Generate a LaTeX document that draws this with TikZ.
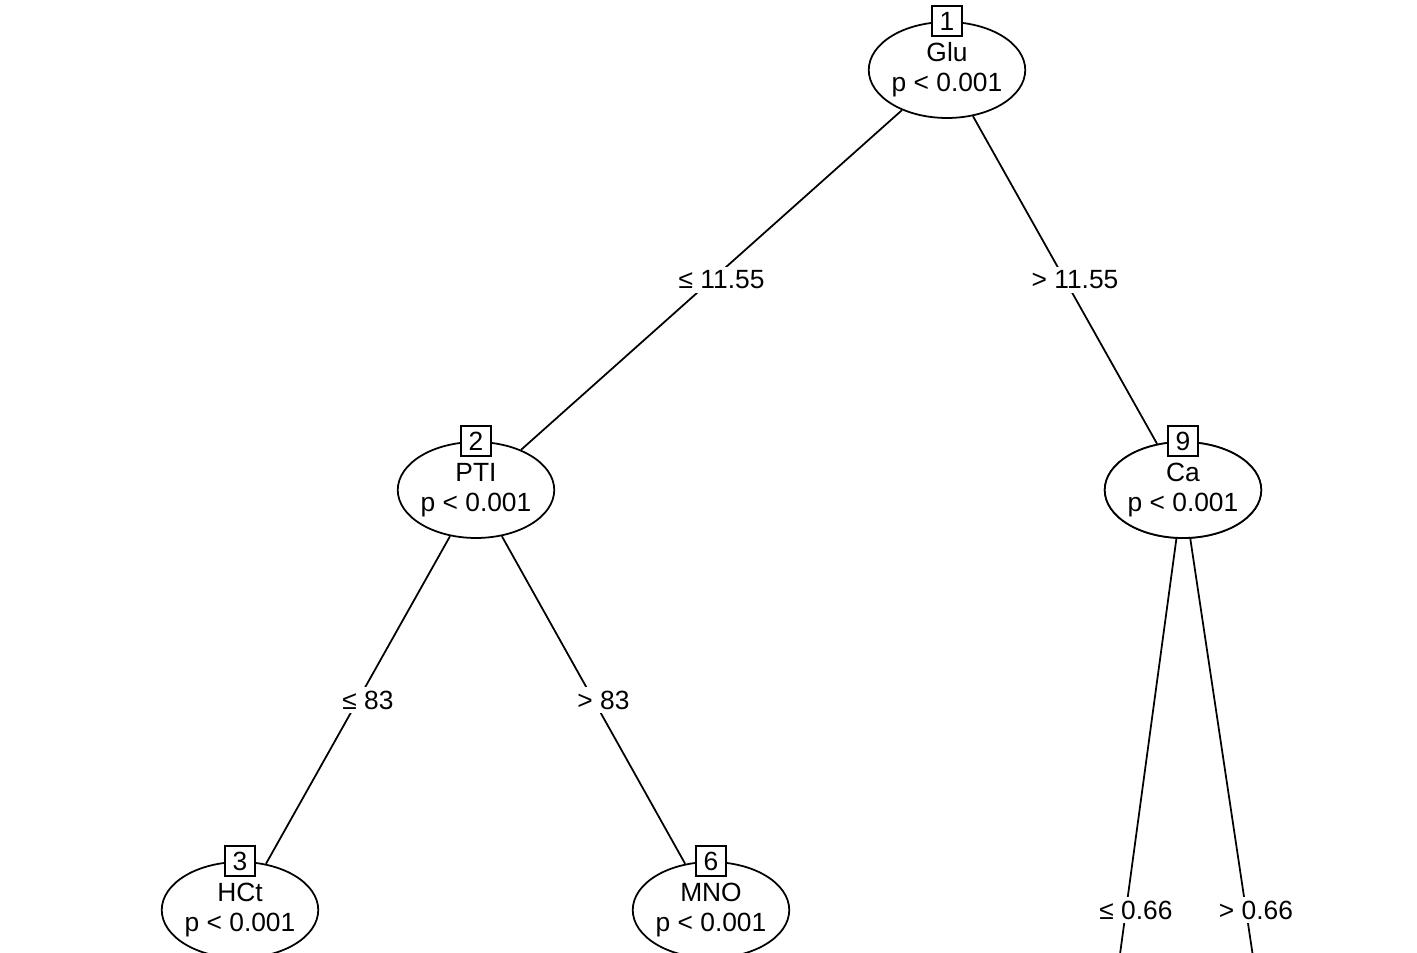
\documentclass[tikz,border=0pt]{standalone}
\usepackage{fontspec}
\setmainfont{Liberation Sans}
\usetikzlibrary{shapes.geometric}

\tikzset{
	inner/.style={ellipse,draw,fill=white,line width=1pt,minimum width=3.12cm,minimum height=1.92cm,inner sep=0pt,align=center,font=\fontsize{15}{17}\selectfont},
	idbox/.style={draw,fill=white,line width=1pt,minimum size=0.6cm,inner sep=1pt,font=\fontsize{15}{17}\selectfont},
	elabel/.style={fill=white,inner sep=2pt,xshift=2mm,font=\fontsize{15}{17}\selectfont},
	edge/.style={line width=1pt}
}

\begin{document}
\begin{tikzpicture}[x=0.2mm,y=-0.2mm]

		\useasboundingbox (0,0) rectangle (1417,953);
		\clip (0,0) rectangle (1417,953);

		\node[inner] (n1) at (947,70) {Glu\\p < 0.001}; %根
		\node[inner] (n2) at (476,490) {PTI\\p < 0.001};
		\node[inner] (n9) at (1183,490) {Ca\\p < 0.001};
		\node[inner] (n3) at (240,910) {HCt\\p < 0.001};
		\node[inner] (n6) at (711,910) {MNO\\p < 0.001};
		\coordinate (n10) at (1069,1330); %下の枝
		\coordinate (n11) at (1309,1330);

		\draw[edge] (n1) -- (n2) node[elabel,midway] (l2) {≤ 11.55};
		\draw[edge] (n1) -- (n9) node[elabel,midway] (l9) {> 11.55};
		\draw[edge] (n2) -- (n3) node[elabel,midway] (l3) {≤ 83};
		\draw[edge] (n2) -- (n6) node[elabel,midway] (l6) {> 83};
		\draw[edge] (n9.center) -- (n10) node[elabel,pos=0.5] (l10) {≤ 0.66};
		\draw[edge] (n9.center) -- (n11) node[elabel,pos=0.5] (l11) {> 0.66};
		\node[inner] at (n9) {Ca\\p < 0.001}; %上に重ねる

		\node[idbox] (b1) at (n1.north) {1}; %番号
		\node[idbox] (b2) at (n2.north) {2};
		\node[idbox] (b9) at (n9.north) {9};
		\node[idbox] (b3) at (n3.north) {3};
		\node[idbox] (b6) at (n6.north) {6};
	\end{tikzpicture}
\end{document}
